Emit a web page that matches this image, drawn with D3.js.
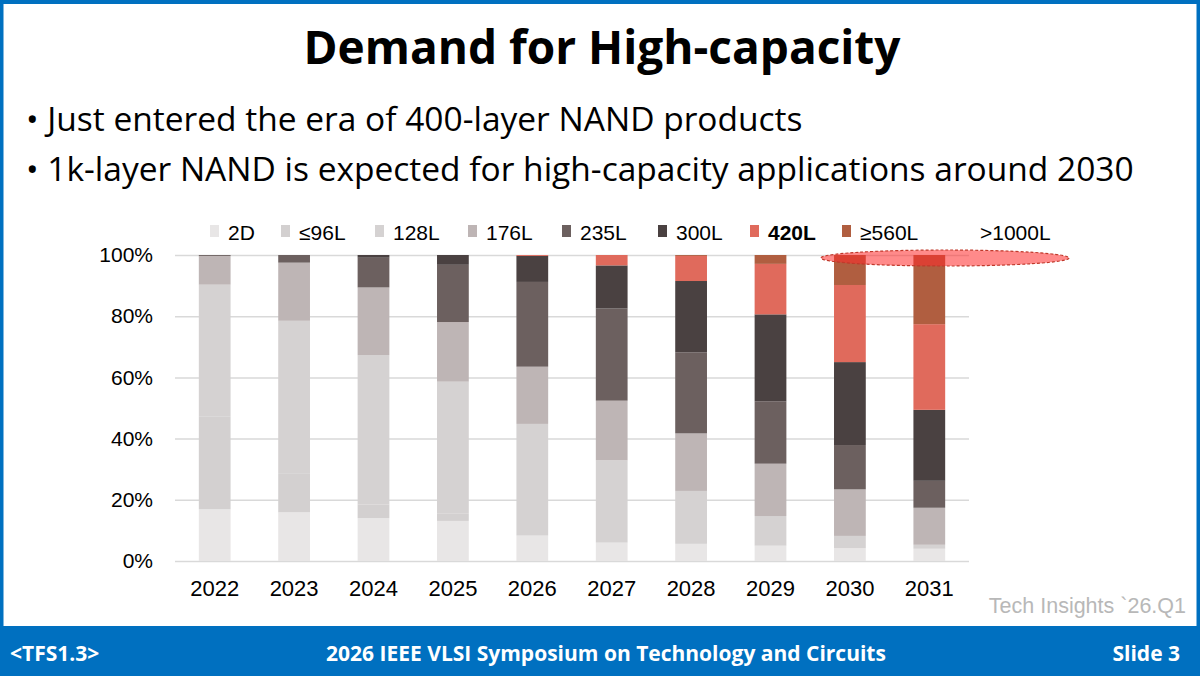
<!DOCTYPE html>
<html>
<head>
<meta charset="utf-8">
<script src="https://cdn.jsdelivr.net/npm/d3@7"></script>
<style>
  body { margin: 0; background: #fff; }
  svg { display: block; }
</style>
</head>
<body>
<div id="slide"></div>
<script>
// share of each layer class per year (%)
var keys = ["2D", "≤96L", "128L", "176L", "235L", "300L", "420L", "≥560L"];
var colors = ["#e8e6e6", "#d3d0d0", "#d5d2d2", "#beb5b5", "#6c605f", "#4a4141", "#e06a5c", "#b05e40"];
var dataArray = [
  {year: "2022", "2D": 16.9, "≤96L": 30.4, "128L": 43.0, "176L": 9.4, "235L": 0.3, "300L": 0, "420L": 0, "≥560L": 0},
  {year: "2023", "2D": 15.9, "≤96L": 12.8, "128L": 49.8, "176L": 19.0, "235L": 2.5, "300L": 0, "420L": 0, "≥560L": 0},
  {year: "2024", "2D": 14.0, "≤96L": 4.5, "128L": 48.8, "176L": 22.1, "235L": 9.7, "300L": 0.9, "420L": 0, "≥560L": 0},
  {year: "2025", "2D": 13.1, "≤96L": 2.5, "128L": 43.0, "176L": 19.5, "235L": 18.7, "300L": 3.2, "420L": 0, "≥560L": 0},
  {year: "2026", "2D": 8.3, "≤96L": 0, "128L": 36.5, "176L": 18.7, "235L": 27.7, "300L": 8.5, "420L": 0.3, "≥560L": 0},
  {year: "2027", "2D": 6.0, "≤96L": 0, "128L": 26.9, "176L": 19.5, "235L": 30.1, "300L": 14.1, "420L": 3.4, "≥560L": 0},
  {year: "2028", "2D": 5.6, "≤96L": 0, "128L": 17.3, "176L": 18.8, "235L": 26.5, "300L": 23.3, "420L": 8.2, "≥560L": 0.3},
  {year: "2029", "2D": 5.0, "≤96L": 0, "128L": 9.7, "176L": 17.1, "235L": 20.4, "300L": 28.4, "420L": 16.5, "≥560L": 2.9},
  {year: "2030", "2D": 4.2, "≤96L": 0, "128L": 4.0, "176L": 15.2, "235L": 14.5, "300L": 27.1, "420L": 25.2, "≥560L": 9.8},
  {year: "2031", "2D": 4.0, "≤96L": 0, "128L": 1.3, "176L": 12.1, "235L": 8.8, "300L": 23.2, "420L": 28.0, "≥560L": 22.6}
];

var W = 1200, H = 676, blue = "#0070c0";

var svg = d3.select("#slide").append("svg")
  .attr("width", W)
  .attr("height", H);

// slide frame
svg.append("rect").attr("x", 1.5).attr("y", 2).attr("width", W - 3).attr("height", 630)
  .attr("fill", "none").attr("stroke", blue).attr("stroke-width", 4);

// title + bullets
svg.append("text").attr("x", 602).attr("y", 64).attr("text-anchor", "middle")
  .attr("font-family", "Open Sans").attr("font-weight", "bold").attr("font-size", 46)
  .text("Demand for High-capacity");
var bullets = ["Just entered the era of 400-layer NAND products",
               "1k-layer NAND is expected for high-capacity applications around 2030"];
bullets.forEach(function(b, i) {
  svg.append("text").attr("x", 26).attr("y", 131 + i * 50)
    .attr("font-family", "Open Sans").attr("font-size", 33.5)
    .text("• " + b);
});

// chart
var x = d3.scaleBand()
  .domain(dataArray.map(function(d) { return d.year; }))
  .range([175, 969])
  .paddingInner(0.6)
  .paddingOuter(0.3);
var y = d3.scaleLinear().domain([0, 100]).range([561, 255]);

var yAxis = d3.axisLeft(y).tickValues([0, 20, 40, 60, 80, 100])
  .tickSize(-(969 - 175)).tickFormat(function(d) { return d + "%"; });
var gy = svg.append("g").attr("transform", "translate(175,0)").call(yAxis);
gy.select(".domain").remove();
gy.selectAll("line").attr("stroke", "#d9d9d9").attr("stroke-width", 1.5);
gy.selectAll("text").attr("x", -22).attr("font-family", "Liberation Sans")
  .attr("font-size", 21).attr("fill", "#000");

var stack = d3.stack().keys(keys)(dataArray);
svg.append("g").selectAll("g")
  .data(stack)
  .enter().append("g")
  .attr("fill", function(d, i) { return colors[i]; })
  .selectAll("rect")
  .data(function(d) { return d; })
  .enter().append("rect")
  .attr("x", function(d) { return x(d.data.year); })
  .attr("y", function(d) { return y(d[1]); })
  .attr("height", function(d) { return y(d[0]) - y(d[1]); })
  .attr("width", x.bandwidth());

var xAxis = d3.axisBottom(x).tickSize(0);
var gx = svg.append("g").attr("transform", "translate(0,561)").call(xAxis);
gx.select(".domain").remove();
gx.selectAll("text").attr("dy", "1.45em").attr("font-family", "Liberation Sans")
  .attr("font-size", 22).attr("fill", "#000");

// legend
var legendX = [210, 281, 375, 468, 562, 658, 750, 842];
keys.forEach(function(k, i) {
  svg.append("rect").attr("x", legendX[i]).attr("y", 225).attr("width", 9).attr("height", 12)
    .attr("fill", colors[i]);
  svg.append("text").attr("x", legendX[i] + 18).attr("y", 240)
    .attr("font-family", "Liberation Sans").attr("font-size", 21)
    .attr("font-weight", k == "420L" ? "bold" : "normal")
    .text(k);
});
svg.append("text").attr("x", 980).attr("y", 240)
  .attr("font-family", "Liberation Sans").attr("font-size", 21).text(">1000L");

// highlight ellipse
svg.append("ellipse").attr("cx", 945).attr("cy", 258).attr("rx", 124).attr("ry", 8)
  .attr("fill", "#ff2a2a").attr("fill-opacity", 0.55)
  .attr("stroke", "#c0392b").attr("stroke-dasharray", "3,2").attr("stroke-width", 1.2);

svg.append("text").attr("x", 1186).attr("y", 613).attr("text-anchor", "end")
  .attr("font-family", "Liberation Sans").attr("font-size", 21.5).attr("fill", "#b8b8b8")
  .text("Tech Insights `26.Q1");

// footer bar
svg.append("rect").attr("x", 0).attr("y", 626).attr("width", W).attr("height", 50).attr("fill", blue);
var foot = [["<TFS1.3>", 10, "start"], ["2026 IEEE VLSI Symposium on Technology and Circuits", 606, "middle"], ["Slide 3", 1180, "end"]];
foot.forEach(function(f) {
  svg.append("text").attr("x", f[1]).attr("y", 661).attr("text-anchor", f[2])
    .attr("font-family", "Open Sans").attr("font-weight", "bold").attr("font-size", 21)
    .attr("fill", "#fff").text(f[0]);
});
</script>
</body>
</html>
